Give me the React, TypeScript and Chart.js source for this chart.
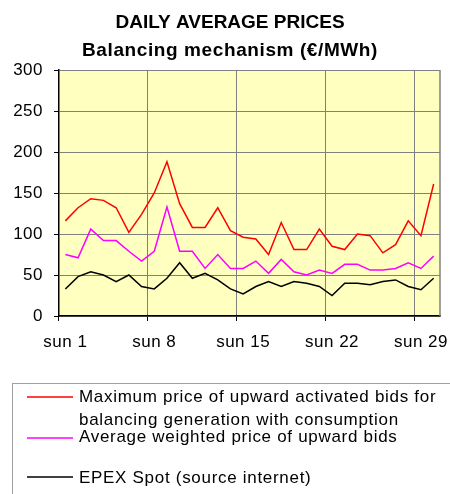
import React, { useEffect, useRef } from "react";
import { Chart, registerables } from "chart.js";

Chart.register(...registerables);

const FONT = '"Liberation Sans", Arial, sans-serif';

const days = ["1","2","3","4","5","6","7","8","9","10","11","12","13","14","15","16","17","18","19","20","21","22","23","24","25","26","27","28","29","30"];

const maxUpward = [116,132,143,141,132,102,124,150,188,137,108,108,132,104,96,94,75,114,81,81,106,85,81,100,98,77,87,116,98,161];
const avgUpward = [75,71,106,92,92,79,67,79,133,79,79,58,75,58,58,67,52,69,54,50,56,52,63,63,56,56,58,65,58,73];
const epexSpot = [33,48,54,50,42,50,36,33,46,65,46,52,44,33,27,36,42,36,42,40,36,25,40,40,38,42,44,36,32,46];

const titleLines = ["DAILY AVERAGE PRICES", "Balancing mechanism (€/MWh)"];
const seriesNames = [
  ["Maximum price of upward activated bids for", "balancing generation with consumption"],
  ["Average weighted price of upward bids"],
  ["EPEX Spot (source internet)"],
];
const seriesColors = ["#FF0000", "#FF00FF", "#000000"];
const tickEvery = 7;

const decor = {
  id: "decor",
  beforeDraw(chart: any) {
    const { ctx, chartArea: a } = chart;
    ctx.save();
    ctx.fillStyle = "#FFFFC0";
    ctx.fillRect(a.left, a.top, a.right - a.left, a.bottom - a.top);
    ctx.restore();
    (ctx as any).letterSpacing = "0.5px";
  },
  beforeDatasetsDraw(chart: any) {
    const { ctx, chartArea: a } = chart;
    ctx.save();
    ctx.strokeStyle = "#808080";
    ctx.lineWidth = 1.5;
    ctx.beginPath();
    ctx.moveTo(a.right, a.top);
    ctx.lineTo(a.right, a.bottom);
    ctx.stroke();
    ctx.restore();
  },
  afterDraw(chart: any) {
    const { ctx } = chart;
    ctx.save();
    ctx.fillStyle = "#000";
    ctx.textAlign = "center";
    ctx.textBaseline = "middle";
    ctx.font = `bold 19px ${FONT}`;
    (ctx as any).letterSpacing = "0px";
    ctx.fillText(titleLines[0], 230, 23);
    (ctx as any).letterSpacing = "0.6px";
    ctx.fillText(titleLines[1], 230, 51);

    // legend box
    ctx.strokeStyle = "#A0A0A0";
    ctx.lineWidth = 1;
    ctx.strokeRect(12.5, 383.5, 460, 200);

    const rows = [[397, 420], [437], [478]];
    const lineY = [397, 438, 477];
    ctx.textAlign = "left";
    ctx.font = `17px ${FONT}`;
    (ctx as any).letterSpacing = "0.7px";
    seriesNames.forEach((lines, i) => {
      ctx.strokeStyle = seriesColors[i];
      ctx.lineWidth = 1.5;
      ctx.beginPath();
      ctx.moveTo(27, lineY[i]);
      ctx.lineTo(73, lineY[i]);
      ctx.stroke();
      lines.forEach((t, j) => {
        ctx.fillStyle = "#000";
        ctx.fillText(t, 79, rows[i][j]);
      });
    });
    ctx.restore();
    (ctx as any).letterSpacing = "0px";
  },
};

export default function App() {
  const ref = useRef<HTMLCanvasElement | null>(null);

  useEffect(() => {
    if (!ref.current) return;
    const chart = new Chart(ref.current, {
      type: "line",
      data: {
        labels: days,
        datasets: [
          { label: seriesNames[0].join(" "), data: maxUpward, borderColor: seriesColors[0], backgroundColor: seriesColors[0], borderWidth: 1.5, pointRadius: 0, tension: 0 },
          { label: seriesNames[1].join(" "), data: avgUpward, borderColor: seriesColors[1], backgroundColor: seriesColors[1], borderWidth: 1.5, pointRadius: 0, tension: 0 },
          { label: seriesNames[2].join(" "), data: epexSpot, borderColor: seriesColors[2], backgroundColor: seriesColors[2], borderWidth: 1.5, pointRadius: 0, tension: 0 },
        ],
      },
      options: {
        responsive: false,
        animation: false,
        devicePixelRatio: 1,
        layout: { padding: { top: 70, right: 10, bottom: 494 - 316 - 40, left: 0 } },
        plugins: {
          legend: { display: false },
          title: { display: false },
          tooltip: { enabled: false },
        },
        scales: {
          x: {
            type: "category",
            offset: true,
            grid: {
              offset: true,
              color: (c: any) => (c.index !== undefined && c.index % tickEvery === 0 ? "#808080" : "rgba(0,0,0,0)"),
              tickColor: (c: any) => (c.index !== undefined && c.index % tickEvery === 0 ? "#000" : "rgba(0,0,0,0)"),
              tickLength: 5,
              lineWidth: 1,
            },
            border: { color: "#000", width: 1.5 },
            ticks: {
              autoSkip: false,
              maxRotation: 0,
              minRotation: 0,
              padding: 11,
              color: "#000",
              font: { size: 17, family: FONT },
              callback: (_v: any, i: number) => (i % tickEvery === 0 ? "sun " + days[i] : ""),
            },
            afterFit: (s: any) => { s.height = 40; },
          },
          y: {
            min: 0,
            max: 300,
            grid: { color: "#808080", tickColor: "#000", tickLength: 5, lineWidth: 1 },
            border: { color: "#000", width: 1.5 },
            ticks: {
              stepSize: 50,
              padding: 11,
              color: "#000",
              font: { size: 17, family: FONT },
            },
            afterFit: (s: any) => { s.width = 59; },
          },
        },
      },
      plugins: [decor],
    });
    return () => chart.destroy();
  }, []);

  return (
    <div style={{ position: "absolute", left: 0, top: 0, width: 450, height: 494, background: "#fff" }}>
      <canvas ref={ref} width={450} height={494} style={{ display: "block", width: 450, height: 494 }} />
    </div>
  );
}
